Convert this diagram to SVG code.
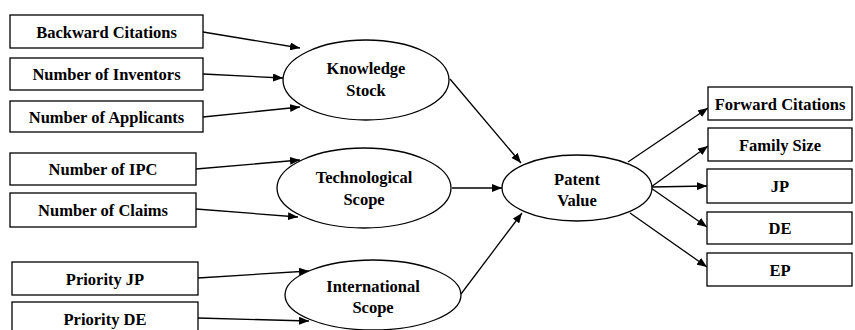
<svg xmlns="http://www.w3.org/2000/svg" width="855" height="330" viewBox="0 0 855 330">
<defs>
<style>
.box{fill:#fff;stroke:#000;stroke-width:1.3}
.ell{fill:#fff;stroke:#000;stroke-width:1.3}
.t{font-family:"Liberation Serif","Times New Roman",serif;font-weight:bold;font-size:16.5px;text-anchor:middle;fill:#000}
.c{stroke:#000;stroke-width:1.3;fill:none;marker-end:url(#ah)}
</style>
<marker id="ah" viewBox="0 0 10 8" refX="10" refY="4" markerWidth="10" markerHeight="8" markerUnits="userSpaceOnUse" orient="auto">
<path d="M0,0 L10,4 L0,8 Z" fill="#000"/>
</marker>
</defs>
<rect width="855" height="330" fill="#fff"/>
<g id="connectors">
<line class="c" x1="203" y1="32" x2="300" y2="48"/>
<line class="c" x1="203" y1="74" x2="283" y2="78"/>
<line class="c" x1="203" y1="117" x2="300" y2="107"/>
<line class="c" x1="196" y1="169" x2="300" y2="160"/>
<line class="c" x1="196" y1="209" x2="298" y2="217"/>
<line class="c" x1="198" y1="278" x2="309" y2="271"/>
<line class="c" x1="198" y1="318" x2="309" y2="321"/>
<line class="c" x1="450" y1="79" x2="521" y2="163"/>
<line class="c" x1="452" y1="188" x2="502" y2="188"/>
<line class="c" x1="461" y1="294" x2="522" y2="213"/>
<line class="c" x1="628" y1="162" x2="708" y2="108"/>
<line class="c" x1="651" y1="187" x2="708" y2="146"/>
<line class="c" x1="651" y1="187" x2="707" y2="186"/>
<line class="c" x1="651" y1="188" x2="707" y2="227"/>
<line class="c" x1="630" y1="213" x2="707" y2="267"/>
</g>
<g id="backward-citations"><rect class="box" x="10" y="15" width="193" height="33"/><text class="t" x="106.5" y="38">Backward Citations</text></g>
<g id="number-of-inventors"><rect class="box" x="10" y="58" width="193" height="32"/><text class="t" x="106.5" y="80">Number of Inventors</text></g>
<g id="number-of-applicants"><rect class="box" x="10" y="101" width="193" height="31"/><text class="t" x="106.5" y="123">Number of Applicants</text></g>
<g id="number-of-ipc"><rect class="box" x="10" y="153" width="186" height="32"/><text class="t" x="103" y="175">Number of IPC</text></g>
<g id="number-of-claims"><rect class="box" x="10" y="193" width="186" height="34"/><text class="t" x="103" y="216">Number of Claims</text></g>
<g id="priority-jp"><rect class="box" x="12" y="262" width="186" height="33"/><text class="t" x="105" y="285">Priority JP</text></g>
<g id="priority-de"><rect class="box" x="12" y="302" width="186" height="32"/><text class="t" x="105" y="325">Priority DE</text></g>
<g id="knowledge-stock"><ellipse class="ell" cx="366" cy="80" rx="83" ry="40"/><text class="t" x="366" y="74">Knowledge</text><text class="t" x="366" y="96">Stock</text></g>
<g id="technological-scope"><ellipse class="ell" cx="364" cy="188" rx="87" ry="40"/><text class="t" x="364" y="183">Technological</text><text class="t" x="364" y="205">Scope</text></g>
<g id="international-scope"><ellipse class="ell" cx="373" cy="295" rx="88" ry="35"/><text class="t" x="373" y="292">International</text><text class="t" x="373" y="313">Scope</text></g>
<g id="patent-value"><ellipse class="ell" cx="577" cy="188" rx="75" ry="33"/><text class="t" x="577" y="185">Patent</text><text class="t" x="577" y="206">Value</text></g>
<g id="forward-citations"><rect class="box" x="708" y="87" width="144" height="33"/><text class="t" x="780" y="110">Forward Citations</text></g>
<g id="family-size"><rect class="box" x="708" y="128" width="144" height="33"/><text class="t" x="780" y="151">Family Size</text></g>
<g id="jp"><rect class="box" x="707" y="169" width="145" height="34"/><text class="t" x="780" y="192">JP</text></g>
<g id="de"><rect class="box" x="707" y="212" width="145" height="32"/><text class="t" x="780" y="234">DE</text></g>
<g id="ep"><rect class="box" x="707" y="253" width="145" height="33"/><text class="t" x="780" y="276">EP</text></g>
</svg>
